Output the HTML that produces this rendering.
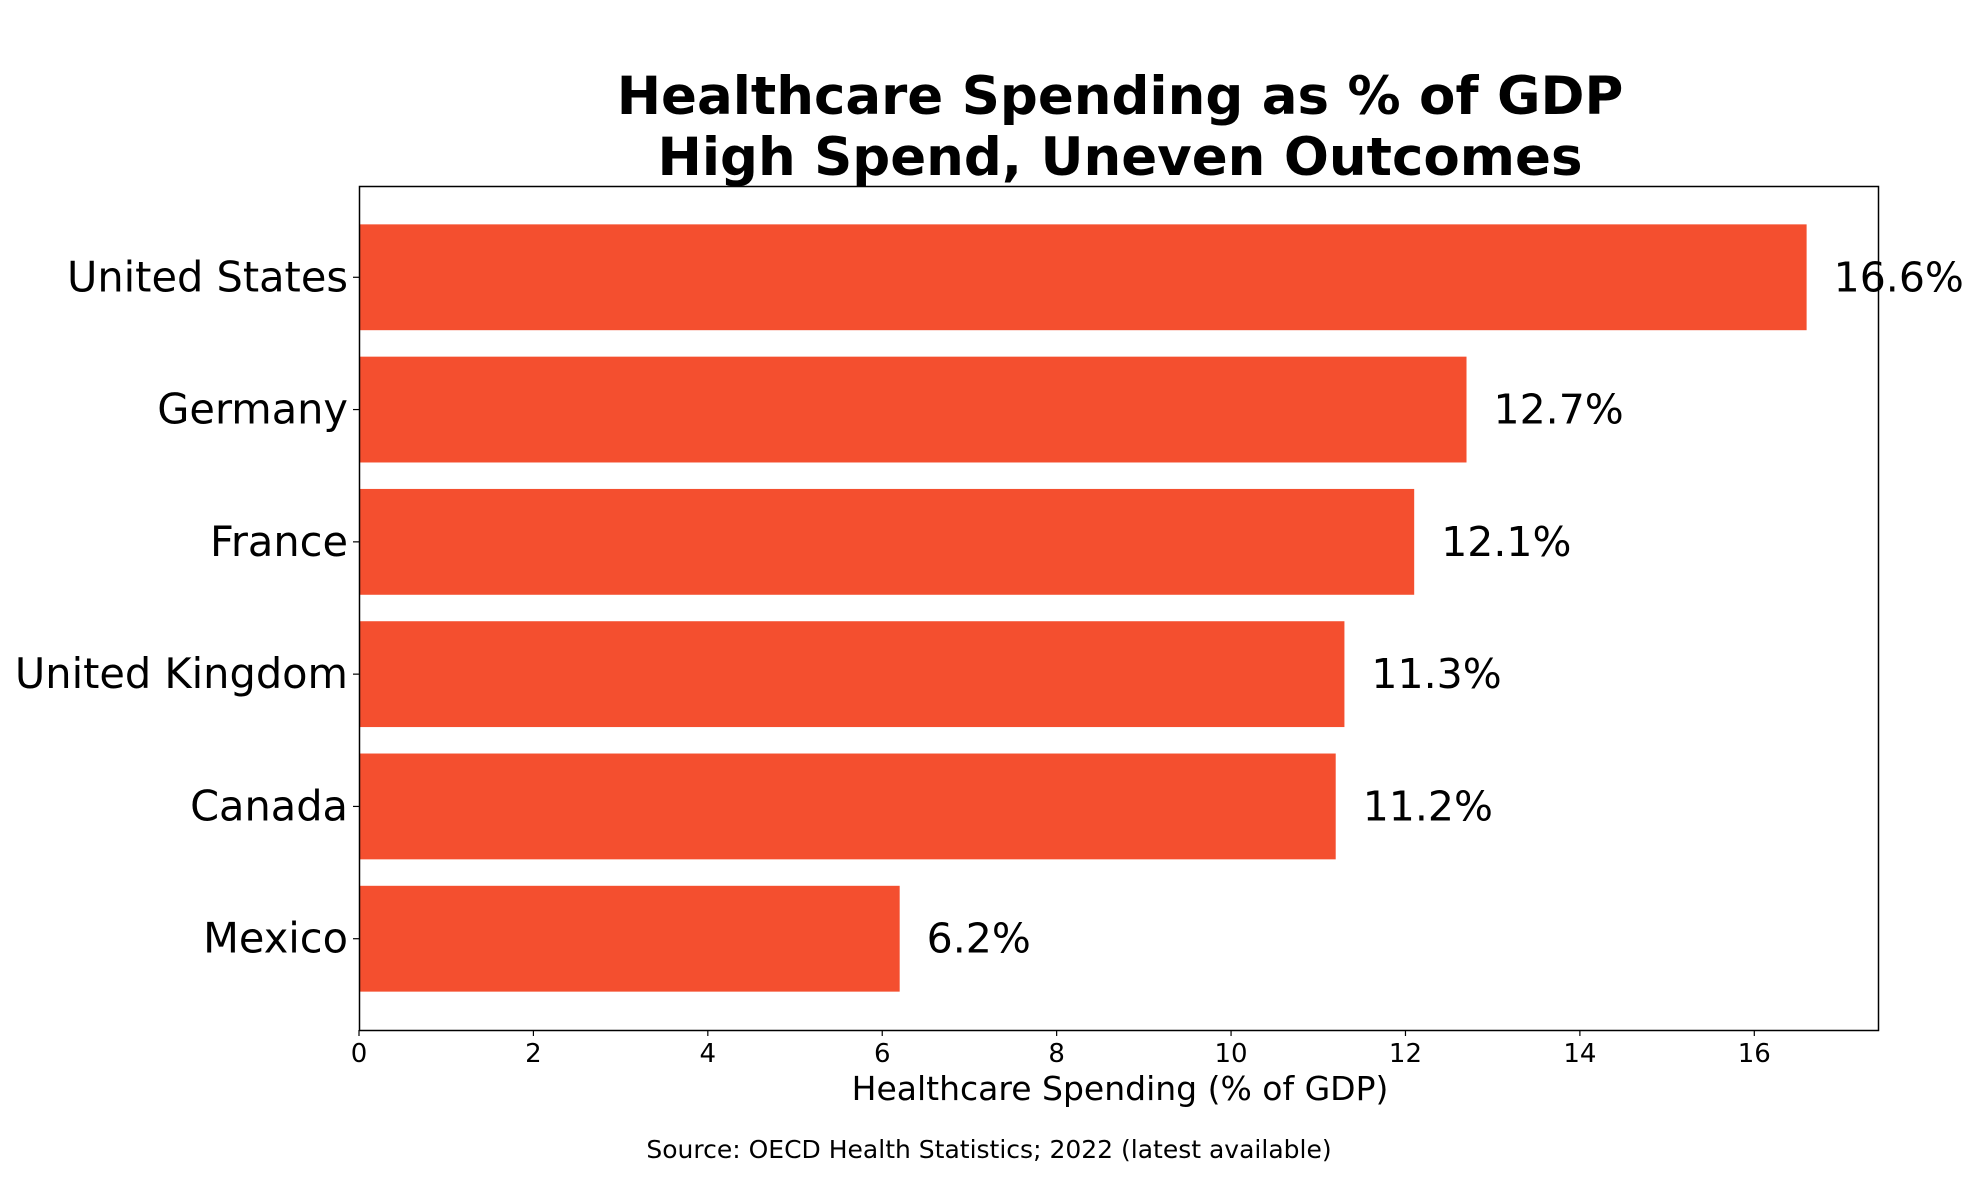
<!DOCTYPE html>
<html><head><meta charset="utf-8"><style>
html,body{margin:0;padding:0;background:#fff}
svg{display:block;font-family:"DejaVu Sans","Liberation Sans",sans-serif}
</style></head><body>
<svg id="chart" width="1979" height="1180" viewBox="0 0 1979 1180" xmlns="http://www.w3.org/2000/svg">
<text x="1120" y="114" font-size="53" font-weight="bold" text-anchor="middle">Healthcare Spending as % of GDP</text>
<text x="1120" y="175" font-size="53" font-weight="bold" text-anchor="middle">High Spend, Uneven Outcomes</text>
<g id="bars"></g>
<g id="xticks"></g>
<g id="yticks"></g>
<rect x="359.5" y="186.5" width="1519" height="844" fill="none" stroke="#000" stroke-width="1.5"/>
<text x="1120" y="1100" font-size="33" text-anchor="middle">Healthcare Spending (% of GDP)</text>
<text x="989" y="1158" font-size="25" text-anchor="middle">Source: OECD Health Statistics; 2022 (latest available)</text>
</svg>
<script>
const categories=["United States","Germany","France","United Kingdom","Canada","Mexico"];
const values=[16.6,12.7,12.1,11.3,11.2,6.2];
const valueLabels=["16.6%","12.7%","12.1%","11.3%","11.2%","6.2%"];
const xTicks=[0,2,4,6,8,10,12,14,16];
const NS="http://www.w3.org/2000/svg";
const L=359,R=1879,T=186,B=1030,XMAX=17.43;
const x=v=>L+v/XMAX*(R-L);
const slot=(B-T)/(categories.length-1+1.38);
const y=i=>T+0.69*slot+i*slot;
function mk(tag,attrs,parent){const e=document.createElementNS(NS,tag);for(const k in attrs)e.setAttribute(k,attrs[k]);parent.appendChild(e);return e;}
const gb=document.getElementById('bars'),gx=document.getElementById('xticks'),gy=document.getElementById('yticks');
categories.forEach((c,i)=>{
  const r=mk('rect',{x:x(0),y:y(i)-0.4*slot,width:x(values[i])-x(0),height:0.8*slot,fill:'#f44f2f'},gb);
  
  
  const t=mk('text',{x:x(values[i])+27,y:y(i)+14,'font-size':41},gb);
  t.textContent=valueLabels[i];
  
  
  const tk=mk('line',{x1:L-6,x2:L,y1:y(i),y2:y(i),stroke:'#000','stroke-width':1.2},gy);
  
  
  const yl=mk('text',{x:L-11,y:y(i)+14,'font-size':41.5,'text-anchor':'end'},gy);
  yl.textContent=c;
  
  
});
xTicks.forEach(v=>{
  const tk=mk('line',{x1:x(v),x2:x(v),y1:B,y2:B+6,stroke:'#000','stroke-width':1.2},gx);
  
  
  const t=mk('text',{x:x(v),y:B+32,'font-size':26,'text-anchor':'middle'},gx);
  t.textContent=v;
  
  
});
</script>
</body></html>
